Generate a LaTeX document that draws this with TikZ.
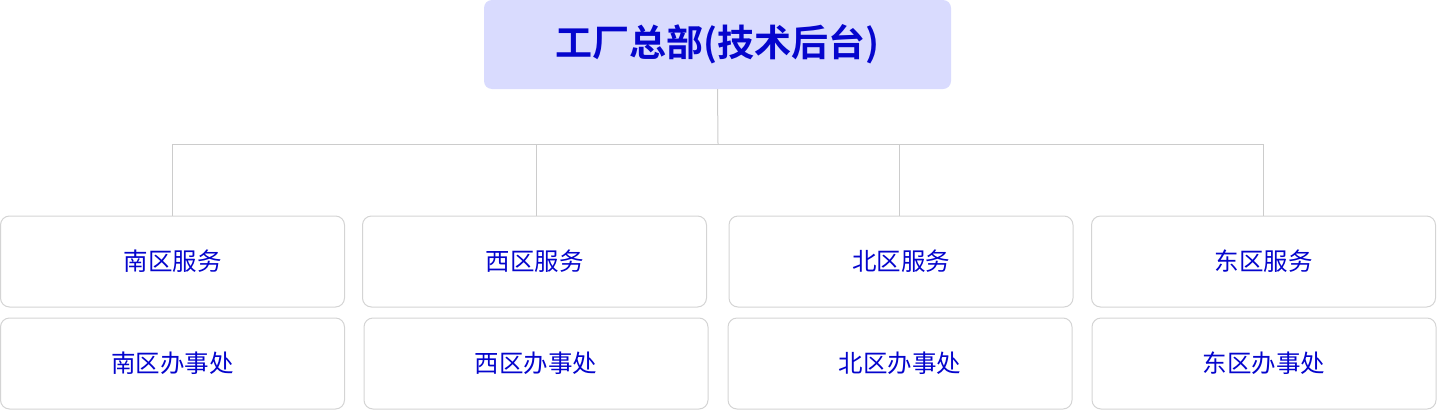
\documentclass[tikz,border=0pt]{standalone}
\usepackage{fontspec}
\newfontfamily\cjk{Noto Sans CJK SC}
\newfontfamily\cjkbold{Noto Sans CJK SC Bold}
\definecolor{txtblue}{RGB}{5,5,205}
\definecolor{topfill}{RGB}{217,219,254}
\definecolor{edgegray}{RGB}{212,212,212}
\definecolor{linegray}{RGB}{204,204,204}
\tikzset{
  topbox/.style={fill=topfill, draw=none, rounded corners=8pt, inner sep=0pt,
    minimum width=467pt, minimum height=89pt, text=txtblue,
    font=\cjkbold\fontsize{37}{44}\selectfont},
  subbox/.style={draw=edgegray, line width=1pt, fill=white, rounded corners=9pt,
    inner sep=0pt, minimum width=344pt, minimum height=91pt, text=txtblue,
    font=\cjk\fontsize{24.5}{30}\selectfont},
  conn/.style={draw=linegray, line width=1pt}
}
\begin{document}
\begin{tikzpicture}[x=1pt,y=-1pt]
\useasboundingbox (0,0) rectangle (1437,410);
\node[topbox] (top) at (717.5,44.5) {工厂总部(技术后台)};
\node[subbox] (s1) at (172.5,261.5) {南区服务};
\node[subbox] (s2) at (534.5,261.5) {西区服务};
\node[subbox] (s3) at (901,261.5) {北区服务};
\node[subbox] (s4) at (1263.5,261.5) {东区服务};
\node[subbox] (o1) at (172.5,363.5) {南区办事处};
\node[subbox] (o2) at (536,363.5) {西区办事处};
\node[subbox] (o3) at (900,363.5) {北区办事处};
\node[subbox] (o4) at (1264,363.5) {东区办事处};
\coordinate (bus) at (718,144);
\coordinate (b1) at (172.5,144);
\coordinate (b2) at (536.5,144);
\coordinate (b3) at (899.5,144);
\coordinate (b4) at (1263.5,144);
\draw[conn] (top.south) -- (bus);
\draw[conn] (b1) -- (b4);
\draw[conn] (b1) -- (b1 |- s1.north);
\draw[conn] (b2) -- (b2 |- s2.north);
\draw[conn] (b3) -- (b3 |- s3.north);
\draw[conn] (b4) -- (b4 |- s4.north);
\end{tikzpicture}
\end{document}
